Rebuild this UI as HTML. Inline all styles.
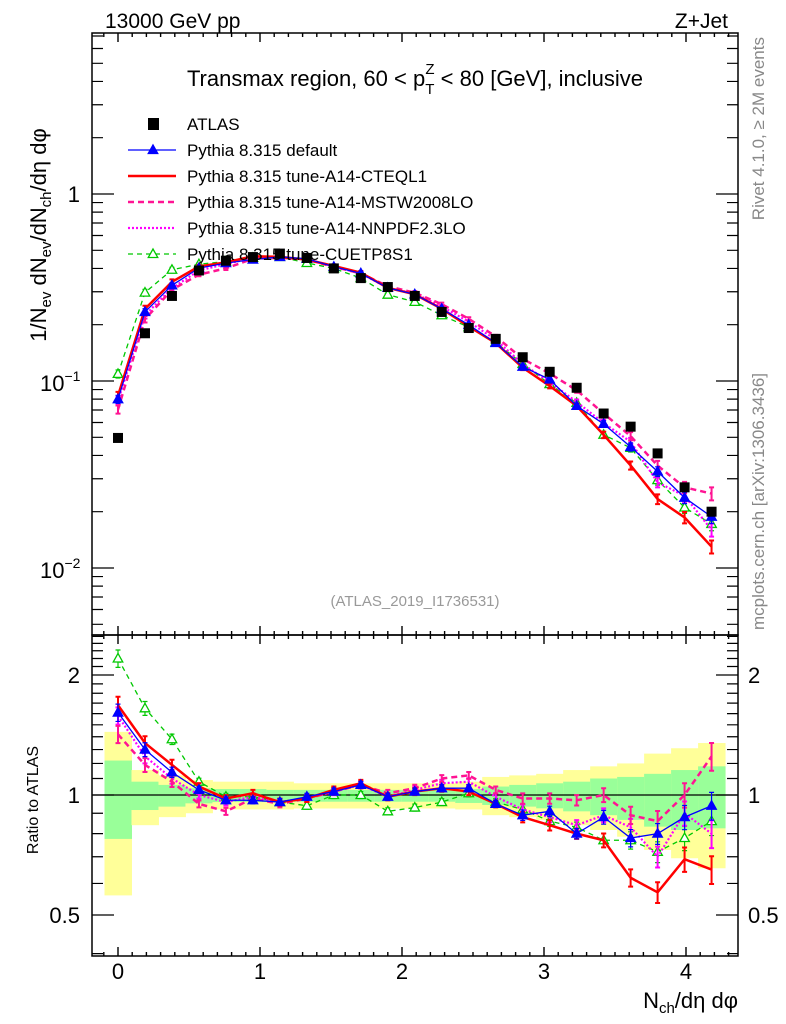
<!DOCTYPE html>
<html><head><meta charset="utf-8"><style>
body{margin:0;background:#fff;}
svg{display:block;font-family:"Liberation Sans",sans-serif;}
</style></head><body>
<svg id="c" width="786" height="1024" xmlns="http://www.w3.org/2000/svg">
<rect width="786" height="1024" fill="#fff"/>
<text x="105" y="28" font-size="21">13000 GeV pp</text>
<text x="728" y="28" font-size="21" text-anchor="end">Z+Jet</text>
<text x="415" y="86" font-size="22" text-anchor="middle">Transmax region, 60 &lt; p<tspan font-size="15" dy="8">T</tspan><tspan font-size="15" dx="-9" dy="-20">Z</tspan><tspan dy="12"> &lt; 80 [GeV], inclusive</tspan></text>
<text transform="translate(46,235) rotate(-90)" font-size="22" text-anchor="middle">1/N<tspan font-size="15" dy="5">ev</tspan><tspan dy="-5"> dN</tspan><tspan font-size="15" dy="5">ev</tspan><tspan dy="-5">/dN</tspan><tspan font-size="15" dy="5">ch</tspan><tspan dy="-5">/dη dφ</tspan></text>
<text transform="translate(764,37) rotate(-90)" font-size="17" fill="#888" text-anchor="end">Rivet 4.1.0, ≥ 2M events</text>
<text transform="translate(764,630) rotate(-90)" font-size="17" fill="#888">mcplots.cern.ch [arXiv:1306.3436]</text>
<text x="415" y="606" font-size="15" fill="#999" text-anchor="middle">(ATLAS_2019_I1736531)</text>
<text transform="translate(38,800) rotate(-90)" font-size="16" text-anchor="middle">Ratio to ATLAS</text>
<text x="738" y="1008" font-size="22" text-anchor="end">N<tspan font-size="15" dy="5">ch</tspan><tspan dy="-5">/dη dφ</tspan></text>
<g id="bands"></g><g id="marks"></g><g id="axes"></g><g id="legend"></g>
</svg>
<script>
const xVals=[0,0.19,0.38,0.57,0.76,0.95,1.14,1.33,1.52,1.71,1.90,2.09,2.28,2.47,2.66,2.85,3.04,3.23,3.42,3.61,3.80,3.99,4.18];
const atlas=[0.0496,0.18,0.285,0.39,0.44,0.46,0.48,0.455,0.40,0.355,0.318,0.285,0.234,0.192,0.168,0.134,0.112,0.092,0.067,0.057,0.041,0.027,0.020];
const rDefault=[1.61,1.30,1.14,1.03,0.97,0.97,0.96,0.99,1.02,1.06,0.99,1.02,1.04,1.04,0.95,0.89,0.91,0.80,0.88,0.78,0.80,0.88,0.94];
const rCteq=[1.68,1.35,1.19,1.05,0.98,1.01,0.96,0.98,1.03,1.07,0.99,1.02,1.04,1.02,0.95,0.88,0.84,0.80,0.77,0.62,0.57,0.69,0.65];
const rMstw=[1.42,1.19,1.08,0.95,0.91,0.98,0.95,0.98,1.02,1.06,1.01,1.04,1.10,1.12,1.03,0.98,0.98,0.97,1.00,0.89,0.86,1.00,1.25];
const rNnpdf=[1.58,1.25,1.10,1.0,0.96,0.99,0.96,0.98,1.02,1.06,0.99,1.03,1.07,1.08,0.99,0.92,0.88,0.84,0.89,0.83,0.70,0.90,0.80];
const rCuetp=[2.2,1.65,1.38,1.08,0.99,0.99,0.96,0.94,1.0,1.0,0.91,0.93,0.96,1.01,0.96,0.92,0.86,0.83,0.77,0.77,0.72,0.78,0.86];
const errFrac=[0.05,0.04,0.03,0.02,0.02,0.02,0.02,0.02,0.02,0.02,0.02,0.02,0.02,0.02,0.02,0.03,0.03,0.03,0.04,0.05,0.06,0.07,0.08];
const yHi=[1.44,1.155,1.12,1.09,1.08,1.08,1.08,1.07,1.07,1.07,1.07,1.07,1.07,1.08,1.11,1.12,1.13,1.155,1.18,1.20,1.27,1.31,1.35];
const yLo=[0.56,0.84,0.88,0.90,0.92,0.92,0.92,0.925,0.925,0.925,0.925,0.925,0.925,0.92,0.89,0.88,0.866,0.84,0.817,0.786,0.728,0.694,0.655];
const gHi=[1.22,1.08,1.06,1.04,1.035,1.035,1.03,1.03,1.03,1.03,1.03,1.03,1.03,1.035,1.05,1.06,1.07,1.08,1.10,1.11,1.13,1.155,1.18];
const gLo=[0.776,0.917,0.935,0.953,0.96,0.96,0.962,0.962,0.962,0.962,0.962,0.962,0.962,0.955,0.944,0.935,0.926,0.91,0.89,0.866,0.833,0.817,0.825];
const legendLabels=["ATLAS","Pythia 8.315 default","Pythia 8.315 tune-A14-CTEQL1","Pythia 8.315 tune-A14-MSTW2008LO","Pythia 8.315 tune-A14-NNPDF2.3LO","Pythia 8.315 tune-CUETP8S1"];
const xTicks=[0,1,2,3,4];

const NS="http://www.w3.org/2000/svg";
const X0=92,X1=738,MT=33,MB=635,RB=956;
const sx=v=>118+v*142;
const sy=v=>194-Math.log10(v)*187;
const sr=v=>795-Math.log10(v)*398.7;
const bw=0.19;
function mk(tag,attrs,parent){const e=document.createElementNS(NS,tag);for(const k in attrs)e.setAttribute(k,attrs[k]);parent.appendChild(e);return e;}
const bands=document.getElementById('bands'),marks=document.getElementById('marks'),axes=document.getElementById('axes'),leg=document.getElementById('legend');

xVals.forEach((x,i)=>{
 let r=mk('rect',{x:sx(x-bw/2),y:sr(yHi[i]),width:sx(x+bw/2)-sx(x-bw/2)+0.5,height:sr(yLo[i])-sr(yHi[i]),fill:'#ffff99'},bands);
 
 
 let g=mk('rect',{x:sx(x-bw/2),y:sr(gHi[i]),width:sx(x+bw/2)-sx(x-bw/2)+0.5,height:sr(gLo[i])-sr(gHi[i]),fill:'#99ff99'},bands);
 
 
});
let l1=mk('line',{x1:X0,x2:X1,y1:sr(1),y2:sr(1),stroke:'#000','stroke-width':1.2},bands);



const series=[
 {name:'cuetp8s1',r:rCuetp,color:'#00c800',w:1.3,dash:'5,4',mark:'open'},
 {name:'nnpdf',r:rNnpdf,color:'#ff00ff',w:2.2,dash:'2,2',mark:null},
 {name:'mstw',r:rMstw,color:'#ff1493',w:2.5,dash:'6,4',mark:null},
 {name:'cteql1',r:rCteq,color:'#ff0000',w:2.5,dash:null,mark:null},
 {name:'default',r:rDefault,color:'#0000ff',w:1.3,dash:null,mark:'filled'}
];
function tri(cx,cy,s,col,filled,parent){
 return mk('polygon',{points:`${cx},${cy-s} ${cx-s*0.95},${cy+s*0.7} ${cx+s*0.95},${cy+s*0.7}`,fill:filled?col:'#fff',stroke:col,'stroke-width':1.3},parent);
}
series.forEach(s=>{
 ['main','ratio'].forEach(panel=>{
  const vals=s.r.map((r,i)=>panel==='main'?r*atlas[i]:r);
  const f=panel==='main'?sy:sr;
  const pts=xVals.map((x,i)=>sx(x)+','+f(vals[i])).join(' ');
  const pl=mk('polyline',{points:pts,fill:'none',stroke:s.color,'stroke-width':s.w},marks);
  if(s.dash)pl.setAttribute('stroke-dasharray',s.dash);
  
  
  xVals.forEach((x,i)=>{
   const v=vals[i],e=errFrac[i];
   const eb=mk('path',{d:`M${sx(x)},${f(v*(1+e))}V${f(v*(1-e))}M${sx(x)-2.5},${f(v*(1+e))}h5M${sx(x)-2.5},${f(v*(1-e))}h5`,stroke:s.color,'stroke-width':s.w>2?2:1.2,fill:'none'},marks);
   
   
   if(s.mark){const t=tri(sx(x),f(v),5,s.color,s.mark==='filled',marks);
    
    }
  });
 });
});
xVals.forEach((x,i)=>{
 const r=mk('rect',{x:sx(x)-5,y:sy(atlas[i])-5,width:10,height:10,fill:'#000'},marks);
 
 
});

[[MT,MB],[MB,RB]].forEach(([t,b],pi)=>{
 const fr=mk('rect',{x:X0,y:t,width:X1-X0,height:b-t,fill:'none',stroke:'#000','stroke-width':1.5},axes);
 
 
 let d='';
 for(let k=-2;k<=44;k++){const xv=k/10;const X=sx(xv);if(X<X0||X>X1)continue;
  const L=(k%10===0)?9:4;
  d+=`M${X},${t}v${L}M${X},${b}v${-L}`;}
 const tp=mk('path',{d:d,stroke:'#000','stroke-width':1.4},axes);
 
 
});
let yd='';
for(let e=-3;e<=0;e++)for(let m=1;m<10;m++){const v=m*Math.pow(10,e);const Y=sy(v);if(Y<MT||Y>MB)continue;const L=m===1?22:11;yd+=`M${X0},${Y}h${L}M${X1},${Y}h${-L}`;}
for(let m=2;m<8;m++){const Y=sy(m);if(Y<MT)continue;yd+=`M${X0},${Y}h11M${X1},${Y}h-11`;}
[0.4,0.5,0.6,0.7,0.8,0.9,1,1.1,1.2,1.3,1.4,1.5,1.6,1.7,1.8,1.9,2,2.1,2.2,2.3,2.4,2.5].forEach(v=>{const Y=sr(v);if(Y<MB||Y>RB)return;const L=(v===0.5||v===1||v===2)?22:11;yd+=`M${X0},${Y}h${L}M${X1},${Y}h${-L}`;});
const yt=mk('path',{d:yd,stroke:'#000','stroke-width':1.2},axes);


function txt(x,y,s,attrs,name){const t=mk('text',Object.assign({x:x,y:y,'font-size':22},attrs||{}),axes);t.textContent=s;return t;}
txt(80,sy(1)+8,'1',{'text-anchor':'end'},'y-tick-label');
[-1,-2].forEach(e=>{const t=txt(40,sy(Math.pow(10,e))+10,'10',{},'y-tick-label');const ts=document.createElementNS(NS,'tspan');ts.setAttribute('font-size','14');ts.setAttribute('dy','-10');ts.textContent='−'+String(-e);t.appendChild(ts);});
[[2,'2'],[1,'1'],[0.5,'0.5']].forEach(([v,s])=>{txt(80,sr(v)+8,s,{'text-anchor':'end'},'ratio-tick-label-left');txt(748,sr(v)+8,s,{},'ratio-tick-label-right');});
xTicks.forEach(v=>txt(sx(v),979,String(v),{'text-anchor':'middle'},'x-tick-label'));

legendLabels.forEach((lab,i)=>{
 const y=124+i*26;
 const t=mk('text',{x:187,y:y+6,'font-size':17},leg);t.textContent=lab;
 
 
 if(i===0){const r=mk('rect',{x:148,y:y-6,width:11,height:12,fill:'#000'},leg);return;}
 const s=[series[4],series[3],series[2],series[1],series[0]][i-1];
 const ln=mk('line',{x1:128,x2:176,y1:y,y2:y,stroke:s.color,'stroke-width':s.w},leg);
 if(s.dash)ln.setAttribute('stroke-dasharray',s.dash);
 
 
 if(s.mark){const tr=tri(153,y,5,s.color,s.mark==='filled',leg);}
});
</script>
</body></html>
